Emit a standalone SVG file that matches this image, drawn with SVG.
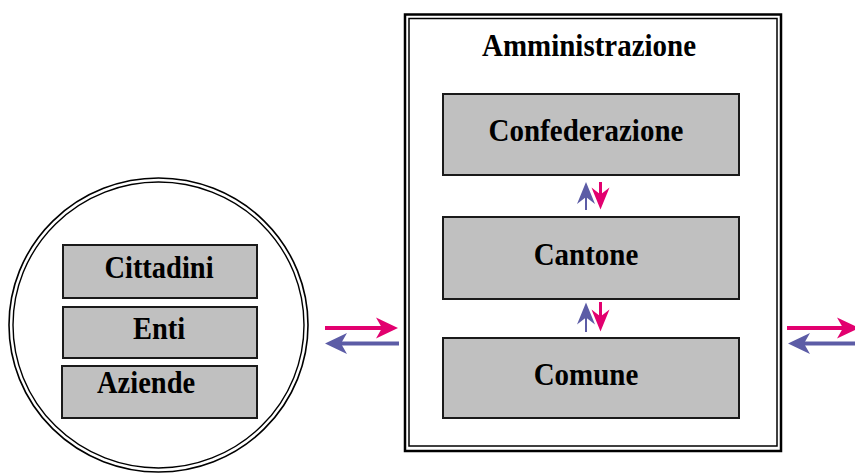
<svg xmlns="http://www.w3.org/2000/svg" xmlns:xlink="http://www.w3.org/1999/xlink" width="855" height="474" viewBox="0 0 855 474">
<style>
.box{fill:#C0C0C0;stroke:#1a1a1a;stroke-width:2}
.t{font-family:"Liberation Serif","Times New Roman",serif;font-weight:bold;fill:#000;font-size:29px}
.tl{font-size:28.5px}
.pk{stroke:#E2006F;fill:none}
.bl{stroke:#5C5CA6;fill:none}
.pkf{fill:#E2006F}
.blf{fill:#5C5CA6}
</style>
<defs>
<path id="head" d="M0,0 L-22,-10.5 L-16,0 L-22,10.5 Z"/>
<path id="vhead" d="M0,0 L-22,-9 L-15,0 L-22,9 Z"/>
</defs>
<rect width="855" height="474" fill="#fff"/>
<g id="frame">
<rect x="405" y="14.5" width="376" height="436.5" fill="none" stroke="#000" stroke-width="2.5"/>
<rect x="409" y="18.5" width="368" height="427.5" fill="none" stroke="#000" stroke-width="1.5"/>
<text class="t" transform="translate(589,56) scale(1,1.12)" text-anchor="middle">Amministrazione</text>
</g>
<g id="confederazione">
<rect class="box" x="443" y="94" width="296" height="81"/>
<text class="t" transform="translate(586,141) scale(1,1.12)" text-anchor="middle">Confederazione</text>
</g>
<g id="cantone">
<rect class="box" x="443" y="217" width="296" height="82"/>
<text class="t" transform="translate(586,265) scale(1,1.12)" text-anchor="middle">Cantone</text>
</g>
<g id="comune">
<rect class="box" x="443" y="338" width="296" height="80"/>
<text class="t" transform="translate(586,385) scale(1,1.12)" text-anchor="middle">Comune</text>
</g>
<g id="circle">
<ellipse cx="158.5" cy="325" rx="149.5" ry="147" fill="none" stroke="#000" stroke-width="1.6"/>
<ellipse cx="158.5" cy="325" rx="145.5" ry="143" fill="none" stroke="#000" stroke-width="1.4"/>
</g>
<g id="cittadini">
<rect class="box" x="63" y="245" width="194" height="53"/>
<text class="t tl" transform="translate(159,278) scale(1,1.12)" text-anchor="middle">Cittadini</text>
</g>
<g id="enti">
<rect class="box" x="63" y="307" width="194" height="51"/>
<text class="t tl" transform="translate(159,339) scale(1,1.12)" text-anchor="middle">Enti</text>
</g>
<g id="aziende">
<rect class="box" x="62" y="366" width="195" height="52"/>
<text class="t tl" transform="translate(97,393) scale(1,1.12)">Aziende</text>
</g>
<g id="connectors">
<line class="pk" x1="325" y1="328" x2="384" y2="328" stroke-width="4"/>
<use xlink:href="#head" class="pkf" transform="translate(398,328)"/>
<line class="bl" x1="339" y1="343.5" x2="399" y2="343.5" stroke-width="4"/>
<use xlink:href="#head" class="blf" transform="translate(325,343.5) rotate(180)"/>
<line class="pk" x1="787" y1="328" x2="845" y2="328" stroke-width="4"/>
<use xlink:href="#head" class="pkf" transform="translate(859,328)"/>
<line class="bl" x1="802" y1="343.5" x2="855" y2="343.5" stroke-width="4"/>
<use xlink:href="#head" class="blf" transform="translate(788,343.5) rotate(180)"/>
<line class="bl" x1="586" y1="210" x2="586" y2="195" stroke-width="2"/>
<use xlink:href="#vhead" class="blf" transform="translate(586,182) rotate(-90)"/>
<line class="pk" x1="600.5" y1="182" x2="600.5" y2="196" stroke-width="3"/>
<use xlink:href="#vhead" class="pkf" transform="translate(600.5,209.5) rotate(90)"/>
<line class="bl" x1="586" y1="332" x2="586" y2="315" stroke-width="2"/>
<use xlink:href="#vhead" class="blf" transform="translate(586,302.5) rotate(-90)"/>
<line class="pk" x1="600.5" y1="302" x2="600.5" y2="318" stroke-width="3"/>
<use xlink:href="#vhead" class="pkf" transform="translate(600.5,331.5) rotate(90)"/>
</g>
</svg>
